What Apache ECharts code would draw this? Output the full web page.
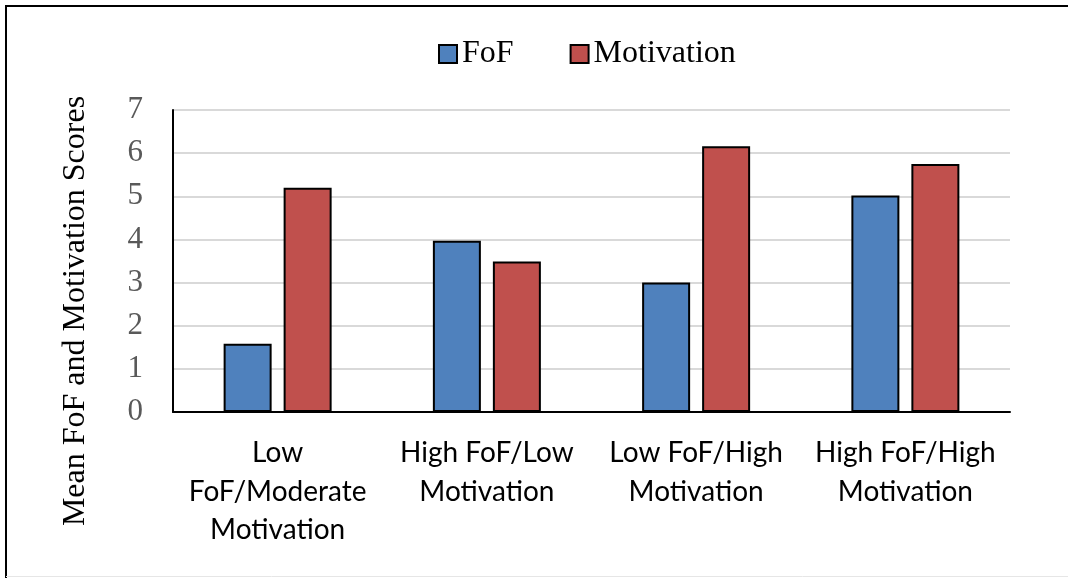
<!DOCTYPE html>
<html>
<head>
<meta charset="utf-8">
<script src="https://cdn.jsdelivr.net/npm/echarts@6/dist/echarts.min.js"></script>
<style>
html,body{margin:0;padding:0;background:#fff;}
#chart{width:1068px;height:578px;}
</style>
</head>
<body>
<div id="chart"></div>
<script>
const categories = ["Low\nFoF/Moderate\nMotivation", "High FoF/Low\nMotivation", "Low FoF/High\nMotivation", "High FoF/High\nMotivation"];
const fofValues = [1.58, 3.97, 3.0, 5.02];
const motivationValues = [5.2, 3.49, 6.16, 5.75];
const seriesNames = ["FoF", "Motivation"];
const yTitle = "Mean FoF and Motivation Scores";

const chart = echarts.init(document.getElementById('chart'));
chart.setOption({
  backgroundColor: '#fff',
  animation: false,
  graphic: [
    {type: 'line', shape: {x1: 5, y1: 6, x2: 1068, y2: 6}, style: {stroke: '#000', lineWidth: 2}},
    {type: 'line', shape: {x1: 6, y1: 5, x2: 6, y2: 578}, style: {stroke: '#000', lineWidth: 2}},
    {type: 'line', shape: {x1: 6, y1: 576.5, x2: 1068, y2: 576.5}, style: {stroke: '#e6e6e6', lineWidth: 1}},
    {type: 'text', x: 76, y: 311, rotation: Math.PI / 2,
     style: {text: yTitle, fontFamily: 'Liberation Serif', fontSize: 32, fill: '#000', align: 'center', verticalAlign: 'middle'}}
  ],
  legend: {
    top: 33,
    left: 433,
    itemWidth: 18,
    itemHeight: 18,
    itemGap: 56,
    icon: 'rect',
    textStyle: {fontFamily: 'Liberation Serif', fontSize: 32, color: '#000'},
    data: seriesNames
  },
  grid: {left: 173, right: 58, top: 110, bottom: 166, containLabel: false},
  xAxis: {
    type: 'category',
    data: categories,
    axisLine: {lineStyle: {color: '#000', width: 2}},
    axisTick: {show: false},
    axisLabel: {
      fontFamily: 'Lato', fontSize: 28, color: '#000', lineHeight: 38.5, margin: 22, interval: 0
    }
  },
  yAxis: {
    type: 'value',
    min: 0, max: 7, interval: 1,
    axisLine: {show: true, lineStyle: {color: '#000', width: 2}},
    axisTick: {show: false},
    axisLabel: {fontFamily: 'Liberation Serif', fontSize: 31, color: '#595959', margin: 30},
    splitLine: {lineStyle: {color: '#d9d9d9', width: 2}}
  },
  series: [
    {
      name: seriesNames[0], type: 'bar', data: fofValues,
      barWidth: 48, barGap: '25%',
      itemStyle: {color: '#4F81BD', borderColor: '#000', borderWidth: 2}
    },
    {
      name: seriesNames[1], type: 'bar', data: motivationValues,
      barWidth: 48,
      itemStyle: {color: '#C0504D', borderColor: '#000', borderWidth: 2}
    }
  ]
});
</script>
</body>
</html>
